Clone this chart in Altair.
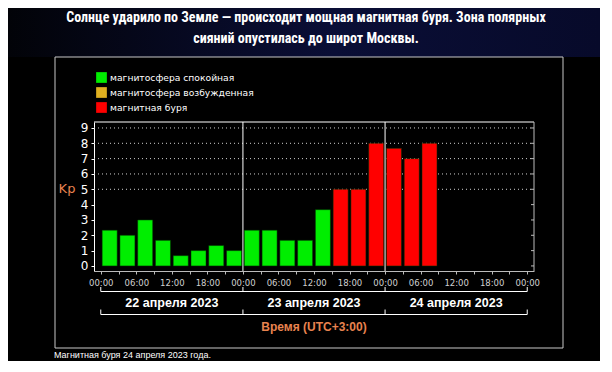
import altair as alt
import pandas as pd

# ---------------- data ----------------
title_lines = ["Солнце ударило по Земле — происходит мощная магнитная буря. Зона полярных",
               "сияний опустилась до широт Москвы."]
bar_start_hours = [0, 3, 6, 9, 12, 15, 18, 21,
                   24, 27, 30, 33, 36, 39, 42, 45,
                   48, 51, 54]
kp_values = [2.33, 2.0, 3.0, 1.67, 0.67, 1.0, 1.33, 1.0,
             2.33, 2.33, 1.67, 1.67, 3.67, 5.0, 5.0, 8.0,
             7.67, 7.0, 8.0]
legend_labels = ["магнитосфера спокойная", "магнитосфера возбужденная", "магнитная буря"]
legend_colors = ["#00ee00", "#e0b020", "#ff0000"]
day_labels = ["22 апреля 2023", "23 апреля 2023", "24 апреля 2023"]
day_start_hours = [0, 24, 48, 72]
tick_hours = list(range(0, 73, 3))
hour_labels = ["00:00", "06:00", "12:00", "18:00"]
y_ticks = [0, 1, 2, 3, 4, 5, 6, 7, 8, 9]
grid_levels = [5, 6, 7, 8, 9]
x_title = "Время (UTC+3:00)"
y_title = "Kp"
caption = "Магнитная буря 24 апреля 2023 года."

# ---------------- tables ----------------
def status(v):
    if v >= 5:
        return legend_labels[2]
    if v >= 4:
        return legend_labels[1]
    return legend_labels[0]

bars_df = pd.DataFrame({
    "hour": [h + 1.5 for h in bar_start_hours],
    "kp": kp_values,
    "status": [status(v) for v in kp_values],
})
grid_df = pd.DataFrame({"kp": grid_levels})
rtick_df = pd.DataFrame({"kp": y_ticks})
sep_df = pd.DataFrame({"hour": day_start_hours[1:3]})
bound_df = pd.DataFrame({"hour": day_start_hours})
span_df = pd.DataFrame({"hour": [day_start_hours[0]], "hour2": [day_start_hours[-1]]})
days_df = pd.DataFrame({"hour": [h + 12 for h in day_start_hours[:3]], "label": day_labels})
one = pd.DataFrame({"a": [0]})

W, H = 440, 149
XDOM = [-0.3, 72.3]
YDOM = [-0.33, 9.39]
xscale = alt.Scale(domain=XDOM, nice=False, zero=False)
yscale = alt.Scale(domain=YDOM, nice=False, zero=False)

label_arr = "[" + ",".join("'%s'" % s for s in hour_labels) + "]"
x_label_expr = "datum.value % 6 == 0 ? " + label_arr + "[(datum.value % 24) / 6] : ''"

x_axis = alt.Axis(values=tick_hours, labelExpr=x_label_expr, title=None, grid=False,
                  tickSize=3, tickColor="#bbbbbb", domainColor="#bbbbbb",
                  labelColor="#d0d0d0", labelFontSize=8.5, labelFont="DejaVu Sans",
                  labelPadding=4, labelOverlap=False, labelFlush=False, labelBound=False)
y_axis = alt.Axis(values=y_ticks, title=None, grid=False, tickSize=3,
                  tickColor="white", domainColor="white", labelColor="white",
                  labelFontSize=12, labelFont="DejaVu Sans", labelPadding=3,
                  labelOverlap=False, labelBound=False)


def X(field="hour:Q"):
    return alt.X(field, scale=xscale, axis=x_axis)


def Y(field="kp:Q"):
    return alt.Y(field, scale=yscale, axis=y_axis)


TITLE_FONT = "Liberation Sans Narrow, Roboto Condensed, Roboto, sans-serif"

# background gradient banner (above the black panel only)
banner = alt.Chart(one).mark_rect(
    color=alt.LinearGradient(gradient="linear", x1=0, x2=1, y1=0, y2=0,
                             stops=[alt.GradientStop(color="#020308", offset=0),
                                    alt.GradientStop(color="#0a0e36", offset=0.55),
                                    alt.GradientStop(color="#070a2a", offset=1)])
).encode(x=alt.value(-86), x2=alt.value(506), y=alt.value(-114), y2=alt.value(-65))

panel = alt.Chart(one).mark_rect(fillOpacity=0, stroke="#c8c8c8", strokeWidth=1).encode(
    x=alt.value(-39), x2=alt.value(469), y=alt.value(-65), y2=alt.value(226))

grid = alt.Chart(grid_df).mark_rule(color="#d0d0d0", strokeDash=[1, 3], strokeWidth=1).encode(
    y=Y(), x=alt.value(0), x2=alt.value(W))

rticks = alt.Chart(rtick_df).mark_rule(color="#bbbbbb").encode(
    y=Y(), x=alt.value(W - 3), x2=alt.value(W))

bars = alt.Chart(bars_df).mark_bar(width=15, stroke="#003300", strokeWidth=0.5).encode(
    x=X(),
    y=Y(),
    y2=alt.value(H),
    color=alt.Color("status:N", scale=alt.Scale(domain=legend_labels, range=legend_colors),
                    legend=alt.Legend(orient="none", legendX=2, legendY=-50, title=None,
                                      symbolType="square", symbolSize=115, symbolStrokeWidth=0,
                                      symbolOpacity=1, labelColor="white", labelFontSize=9.2,
                                      labelFont="DejaVu Sans", rowPadding=4, padding=0,
                                      labelOffset=3)),
)

seps = alt.Chart(sep_df).mark_rule(color="white", strokeWidth=1).encode(
    x=X(), y=alt.value(0), y2=alt.value(H))

top_border = alt.Chart(one).mark_rect(color="white").encode(
    x=alt.value(0), x2=alt.value(W), y=alt.value(-0.5), y2=alt.value(0.5))
right_border = alt.Chart(one).mark_rect(color="#bbbbbb").encode(
    x=alt.value(W - 0.5), x2=alt.value(W + 0.5), y=alt.value(0), y2=alt.value(H))

span1 = alt.Chart(span_df).mark_rule(color="white").encode(
    x=X(), x2="hour2:Q", y=alt.value(169.5))
ticks1 = alt.Chart(bound_df).mark_rule(color="white").encode(
    x=X(), y=alt.value(165), y2=alt.value(169.5))
span2 = alt.Chart(span_df).mark_rule(color="white").encode(
    x=X(), x2="hour2:Q", y=alt.value(192.5))
ticks2 = alt.Chart(bound_df).mark_rule(color="white").encode(
    x=X(), y=alt.value(187.5), y2=alt.value(192.5))

days = alt.Chart(days_df).mark_text(color="white", fontWeight="bold", fontSize=12.5,
                                    font="Liberation Sans, Arial, sans-serif",
                                    baseline="middle", align="center").encode(
    x=X(), y=alt.value(181), text="label:N")

xtitle = alt.Chart(one).mark_text(text=x_title, color="#e8834f", fontWeight="bold", fontSize=12,
                                  font="Liberation Sans, Arial, sans-serif",
                                  baseline="middle", align="center").encode(
    x=alt.value(220), y=alt.value(205))

ytitle = alt.Chart(one).mark_text(text=y_title, color="#e8834f", fontSize=13,
                                  font="DejaVu Sans", baseline="middle", align="center").encode(
    x=alt.value(-27), y=alt.value(67))

title1 = alt.Chart(one).mark_text(text=title_lines[0], color="white", fontWeight="bold",
                                  fontSize=14, font=TITLE_FONT,
                                  baseline="middle", align="center").encode(
    x=alt.value(212), y=alt.value(-104))
title2 = alt.Chart(one).mark_text(text=title_lines[1], color="white", fontWeight="bold",
                                  fontSize=14, font=TITLE_FONT,
                                  baseline="middle", align="center").encode(
    x=alt.value(212), y=alt.value(-83))

cap = alt.Chart(one).mark_text(text=caption, color="white", fontSize=9,
                               font="Liberation Sans, Arial, sans-serif",
                               baseline="middle", align="left").encode(
    x=alt.value(-40), y=alt.value(233))

chart = alt.layer(
    banner, panel, grid, rticks, bars, seps, top_border, right_border,
    span1, ticks1, span2, ticks2, days, xtitle, ytitle, title1, title2, cap
).properties(
    width=W, height=H,
    autosize=alt.AutoSizeParams(type="none"),
    padding={"left": 86, "top": 114, "right": 66, "bottom": 90},
    background="#000000",
).configure_view(stroke=None)

chart.save("out.html", embed_options={"renderer": "svg", "actions": False})
